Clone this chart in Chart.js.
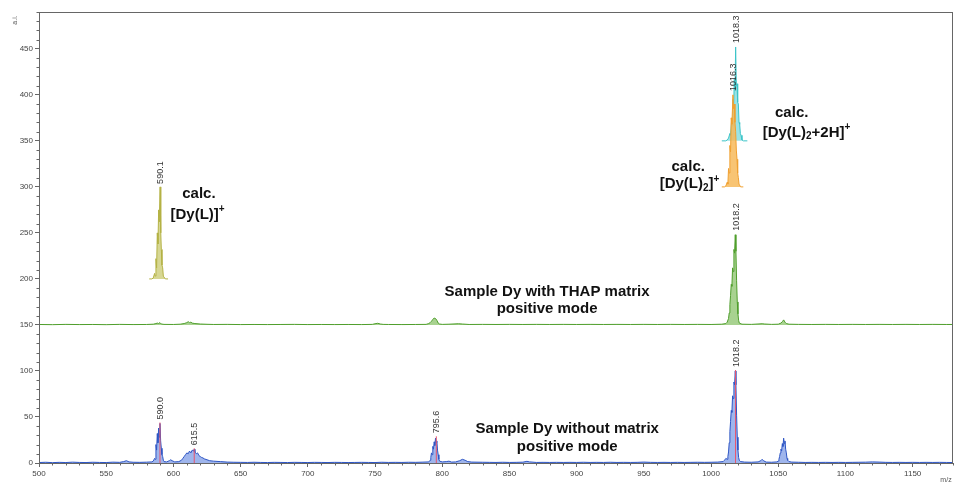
<!DOCTYPE html>
<html><head><meta charset="utf-8">
<script src="https://cdn.jsdelivr.net/npm/chart.js@4/dist/chart.umd.min.js"></script>
<style>html,body{margin:0;padding:0;background:#fff;}canvas{display:block;}</style>
</head><body>
<canvas id="c" width="956" height="485"></canvas>
<script>
// ---------- DATA ----------
const xTickLabels = [500,550,600,650,700,750,800,850,900,950,1000,1050,1100,1150];
const yTickLabels = [0,50,100,150,200,250,300,350,400,450];

// Sample Dy without matrix (blue), [m/z, intensity]
const blueSpectrum = [[500,0.5],[505,0.8],[510,0.4],[515,0.7],[520,0.5],[525,0.9],[530,0.6],[535,0.5],[540,0.8],[545,0.6],[550,0.5],[555,0.9],[560,0.7],[563,1.5],[565,2.5],[567,1.2],[570,0.8],[575,0.7],[580,0.9],[584,1.2],[585,2],[586,5],[586.5,4],[587,20],[587.5,14],[588,32],[588.5,22],[589,38],[589.5,28],[590,43],[590.5,24],[591,16],[591.5,9],[592,7],[592.5,3],[593,1.5],[595,1.2],[597,2.5],[598,3.5],[599,2.5],[601,1.2],[604,1.5],[606,3],[607,5],[608,7],[609,9],[610,11],[611,10],[612,13],[613,11],[614,14],[615,13],[615.5,15],[616,12],[617,10],[618,11],[619,8],[620,7],[621,6],[622,5.5],[623,4.5],[625,3.5],[627,2.5],[630,2],[635,1.5],[640,1],[645,0.8],[650,0.7],[655,0.6],[660,0.8],[665,0.6],[670,0.5],[675,0.7],[680,0.6],[685,0.5],[690,0.7],[695,0.6],[700,0.5],[705,0.7],[710,0.6],[715,0.5],[720,0.7],[725,0.6],[730,0.5],[735,0.6],[740,0.7],[745,0.6],[750,0.5],[755,0.8],[760,0.6],[765,0.7],[770,0.6],[775,0.8],[780,0.7],[785,0.9],[790,1.2],[791,3],[791.5,6],[792,11],[792.5,9],[793,18],[793.5,15],[794,23],[794.5,19],[795,27],[795.5,22],[796,24],[796.5,14],[797,9],[797.5,4],[798,2],[800,1.2],[803,1.5],[805,2],[807,1],[810,1.2],[813,2.5],[815,4],[817,3],[819,1.5],[822,1],[830,0.8],[835,0.7],[840,0.6],[845,0.8],[850,0.6],[855,0.7],[860,0.9],[863,1.8],[865,1.2],[870,0.6],[875,0.7],[880,0.6],[885,0.7],[890,0.6],[895,0.7],[900,0.6],[905,0.8],[910,0.6],[915,0.7],[920,0.6],[925,0.8],[930,0.6],[935,0.7],[940,0.6],[945,0.7],[950,1],[955,0.7],[960,0.6],[965,0.7],[970,0.6],[975,0.7],[980,0.6],[985,0.7],[990,0.8],[995,0.7],[1000,0.8],[1005,1],[1009,1.5],[1010,3],[1011,5],[1012,4],[1012.5,7],[1013,12],[1013.5,22],[1014,34],[1014.5,45],[1015,57],[1015.5,55],[1016,73],[1016.5,70],[1017,88],[1017.5,85],[1018,100],[1018.5,85],[1019,52],[1019.5,28],[1020,14],[1020.5,6],[1021,3],[1022,1.5],[1025,1],[1030,0.8],[1035,1.2],[1037,2.5],[1038,4],[1039,2.5],[1041,1],[1045,0.8],[1049,1.2],[1050,2],[1050.5,4],[1051,7],[1051.5,11],[1052,15],[1052.5,13],[1053,21],[1053.5,18],[1054,27],[1054.5,21],[1055,24],[1055.5,15],[1056,11],[1056.5,5],[1057,3],[1058,1.5],[1060,1],[1065,0.8],[1070,0.6],[1075,0.7],[1080,0.6],[1085,0.7],[1090,0.6],[1095,0.7],[1100,0.6],[1105,0.7],[1110,0.8],[1115,0.9],[1120,1.2],[1125,1],[1130,0.7],[1135,0.6],[1140,0.7],[1145,0.6],[1150,0.7],[1155,0.6],[1160,0.7],[1165,0.6],[1170,0.7],[1175,0.6],[1180,0.5]];

// Sample Dy with THAP matrix (green), offset trace, [m/z, intensity]
const greenSpectrum = [[500,150.5],[510,150.3],[520,150.6],[530,150.4],[540,150.5],[550,150.3],[560,150.6],[570,150.4],[580,150.5],[585,150.8],[587,151.5],[588,152],[589,151.5],[590,152.5],[591,151],[593,150.6],[600,150.5],[605,150.8],[608,151.5],[610,152.5],[611,153.5],[612,152.5],[613,153],[614,152],[616,151.5],[620,151],[625,150.7],[630,150.5],[640,150.6],[650,150.4],[660,150.5],[670,150.4],[680,150.5],[690,150.6],[700,150.4],[710,150.5],[720,150.4],[730,150.5],[740,150.4],[748,150.6],[750,151.3],[752,151.8],[754,151],[756,150.6],[760,150.5],[770,150.4],[780,150.5],[788,150.6],[790,151.5],[791,152.5],[792,154],[793,156],[794,157.5],[795,157],[796,155],[797,152],[798,151],[800,150.6],[805,150.8],[812,151.3],[815,151],[820,150.5],[830,150.6],[840,150.5],[850,150.6],[860,150.5],[870,150.6],[880,150.5],[890,150.6],[900,150.5],[910,150.6],[920,150.5],[930,150.6],[940,150.5],[950,150.6],[960,150.5],[970,150.6],[980,150.5],[990,150.6],[1000,150.5],[1008,150.8],[1011,151.5],[1012,153],[1013,157],[1013.5,163],[1014,172],[1014.5,182],[1015,194],[1015.5,192],[1016,212],[1016.5,208],[1017,232],[1017.5,228],[1018,248],[1018.5,230],[1019,198],[1019.5,175],[1020,162],[1020.5,155],[1021,152],[1023,150.8],[1030,150.6],[1038,151.3],[1040,151],[1045,150.6],[1050,150.8],[1052,152],[1053,153.5],[1054,155.5],[1055,153],[1056,151.5],[1058,150.8],[1065,150.6],[1075,150.5],[1085,150.6],[1095,150.5],[1105,150.6],[1115,150.5],[1125,150.6],[1135,150.5],[1145,150.6],[1155,150.5],[1165,150.6],[1175,150.5],[1180,150.5]];

// calc. [Dy(L)]+ (olive), baseline 200
const calcDyL = [[582,200],[584,200],[585,201],[586,206],[586.5,203],[587,222],[587.5,212],[588,250],[588.5,238],[589,275],[589.5,262],[590.1,300],[590.6,250],[591,232],[591.5,215],[592,212],[592.5,203],[593,202],[594,200],[596,200]];
const calcDyLBase = 200;

// calc. [Dy(L)2]+ (orange), baseline 300
const calcDyL2 = [[1008,300],[1010,300],[1011,301],[1012,305],[1012.5,303],[1013,320],[1013.5,315],[1014,345],[1014.5,338],[1015,375],[1015.5,368],[1016.3,400],[1016.8,385],[1017.3,390],[1017.8,370],[1018.3,360],[1018.8,340],[1019.3,330],[1019.8,315],[1020.3,310],[1020.8,303],[1021.3,303],[1022,300],[1024,300]];
const calcDyL2Base = 300;

// calc. [Dy(L)2+2H]+ (cyan), baseline 350
const calcDyL2H = [[1008,350],[1011,350],[1012,351],[1013,353],[1014,358],[1014.5,356],[1015.3,372],[1015.8,366],[1016.3,395],[1016.8,385],[1017.3,418],[1017.8,405],[1018.3,452],[1018.8,410],[1019.3,412],[1019.8,392],[1020.3,390],[1020.8,370],[1021.3,368],[1021.8,358],[1022.3,356],[1023,351],[1024,350],[1027,350]];
const calcDyL2HBase = 350;

const greenBase = 150;

// peak markers (red lines) on blue spectrum: [m/z, height]
const peakMarkers = [[590.0,44],[615.5,16],[795.6,29],[1018.2,101]];

// peak labels: [m/z, top intensity, text]
const peakLabels = [
  [590.0,44,'590.0'],[615.5,16,'615.5'],[795.6,29,'795.6'],[1018.2,101,'1018.2'],
  [1018.2,249,'1018.2'],[590.1,300,'590.1'],[1016.3,401,'1016.3'],[1018.3,453,'1018.3']
];

// annotation texts (segments: [text, kind]) kind: n normal, b subscript, p superscript
const textDyL = [['calc.'],[['[Dy(L)]','n'],['+','p']]];
const textDyL2 = [['calc.'],[['[Dy(L)','n'],['2','b'],[']','n'],['+','p']]];
const textDyL2H = [['calc.'],[['[Dy(L)','n'],['2','b'],['+2H]','n'],['+','p']]];
const textThap = ['Sample Dy with THAP matrix','positive mode'];
const textNoMatrix = ['Sample Dy without matrix','positive mode'];

// ---------- BUILD ----------
const toXY = arr => arr.map(p => ({x:p[0], y:p[1]}));
const markerPts = [];
peakMarkers.forEach(m => { markerPts.push({x:m[0],y:0},{x:m[0],y:m[1]},{x:m[0],y:null}); });

const FONT = '"Liberation Sans", Arial, sans-serif';

const overlay = {
  id:'overlay',
  afterDraw(chart){
    const ctx = chart.ctx, xs = chart.scales.x, ys = chart.scales.y, ca = chart.chartArea;
    ctx.save();
    // frame
    ctx.strokeStyle = '#666'; ctx.lineWidth = 1;
    ctx.strokeRect(Math.round(ca.left)+0.5, Math.round(ca.top)+0.5, Math.round(ca.right-ca.left)-1, Math.round(ca.bottom-ca.top));
    // minor ticks
    ctx.beginPath();
    for (let v=510; v<=1180; v+=10){ if (v%50===0) continue; const px=Math.round(xs.getPixelForValue(v))+0.5; ctx.moveTo(px, ca.bottom); ctx.lineTo(px, ca.bottom+2.5); }
    for (let v=10; v<=490; v+=10){ if (v%50===0) continue; const py=Math.round(ys.getPixelForValue(v))+0.5; ctx.moveTo(ca.left, py); ctx.lineTo(ca.left-2.5, py); }
    ctx.stroke();
    // axis titles
    ctx.fillStyle = '#555'; ctx.font = '7px '+FONT;
    ctx.save(); ctx.translate(15, 20); ctx.rotate(-Math.PI/2); ctx.textAlign='center'; ctx.textBaseline='middle'; ctx.fillText('a.i.',0,0); ctx.restore();
    ctx.textAlign='center'; ctx.textBaseline='middle'; ctx.fillText('m/z', 946, 480);
    // peak labels
    ctx.fillStyle = '#333'; ctx.font = '9px '+FONT;
    peakLabels.forEach(l => {
      const px = xs.getPixelForValue(l[0]), py = ys.getPixelForValue(l[1]) - 3;
      ctx.save(); ctx.translate(px, py); ctx.rotate(-Math.PI/2);
      ctx.textAlign='left'; ctx.textBaseline='middle'; ctx.fillText(l[2],0,0.5); ctx.restore();
    });
    // annotations
    const bold = s => 'bold '+s+'px '+FONT;
    function richWidth(segs){ let w=0; segs.forEach(s=>{ ctx.font = bold(s[1]==='n'?15:10); w+=ctx.measureText(s[0]).width; }); return w; }
    function drawRich(segs, cx, cy){
      const w = richWidth(segs); let x = cx - w/2;
      ctx.textAlign='left'; ctx.textBaseline='middle';
      segs.forEach(s=>{ const k=s[1]; ctx.font = bold(k==='n'?15:10); const dy = k==='b'?4:(k==='p'?-5:0); ctx.fillText(s[0], x, cy+dy); x += ctx.measureText(s[0]).width; });
    }
    function drawPlain(t, cx, cy){ ctx.font = bold(15); ctx.textAlign='center'; ctx.textBaseline='middle'; ctx.fillText(t, cx, cy); }
    ctx.fillStyle = '#111';
    const P = (mz, v) => [xs.getPixelForValue(mz), ys.getPixelForValue(v)];
    let a;
    a = P(619, 292); drawPlain(textDyL[0][0], a[0], a[1]); a = P(618, 270); drawRich(textDyL[1], a[0], a[1]);
    a = P(983, 322); drawPlain(textDyL2[0][0], a[0], a[1]); a = P(984, 303); drawRich(textDyL2[1], a[0], a[1]);
    a = P(1060, 380); drawPlain(textDyL2H[0][0], a[0], a[1]); a = P(1071, 359); drawRich(textDyL2H[1], a[0], a[1]);
    a = P(878, 186); drawPlain(textThap[0], a[0], a[1]); a = P(878, 168); drawPlain(textThap[1], a[0], a[1]);
    a = P(893, 37); drawPlain(textNoMatrix[0], a[0], a[1]); a = P(893, 17.5); drawPlain(textNoMatrix[1], a[0], a[1]);
    ctx.restore();
  }
};

const lineDs = (label, data, color, fillColor, base, width) => ({
  label, data: toXY(data), borderColor: color, backgroundColor: fillColor, borderWidth: width||1,
  fill: {value: base}, pointRadius: 0, tension: 0
});

new Chart(document.getElementById('c'), {
  type: 'line',
  data: { datasets: [
    lineDs('calc. [Dy(L)2]+', calcDyL2, '#f0a030', 'rgba(247,186,90,0.85)', calcDyL2Base),
    lineDs('calc. [Dy(L)2+2H]+', calcDyL2H, '#3cc4c8', 'rgba(130,220,222,0.8)', calcDyL2HBase),
    lineDs('calc. [Dy(L)]+', calcDyL, '#b4b244', 'rgba(205,205,120,0.8)', calcDyLBase),
    { label:'markers', data: markerPts, borderColor:'#e8566e', borderWidth:1, pointRadius:0, fill:false, spanGaps:false },
    lineDs('Sample Dy with THAP matrix', greenSpectrum, '#4f9e2c', 'rgba(110,180,70,0.6)', greenBase),
    lineDs('Sample Dy without matrix', blueSpectrum, '#2d55c4', 'rgba(80,120,220,0.55)', 0)
  ]},
  options: {
    responsive: false, animation: false, devicePixelRatio: 1,
    layout: { padding: { top: 12, right: 3, left: 0, bottom: 0 } },
    plugins: { legend: {display:false}, tooltip: {enabled:false} },
    scales: {
      x: { type:'linear', min:500, max:1180,
        ticks: { stepSize:50, includeBounds:false, autoSkip:false, maxRotation:0, color:'#444', font:{size:8, family:FONT}, padding:2,
          callback: v => xTickLabels.includes(v) ? String(v) : '' },
        grid: { drawOnChartArea:false, tickLength:4, color:'#666' }, border: { display:true, color:'#666' },
        afterFit: s => { s.height = 22; } },
      y: { type:'linear', min:0, max:490,
        ticks: { stepSize:50, includeBounds:false, autoSkip:false, color:'#444', font:{size:8, family:FONT}, padding:2,
          callback: v => yTickLabels.includes(v) ? String(v) : '' },
        grid: { drawOnChartArea:false, tickLength:4, color:'#666' }, border: { display:true, color:'#666' },
        afterFit: s => { s.width = 39; } }
    }
  },
  plugins: [overlay]
});
</script>
</body></html>
